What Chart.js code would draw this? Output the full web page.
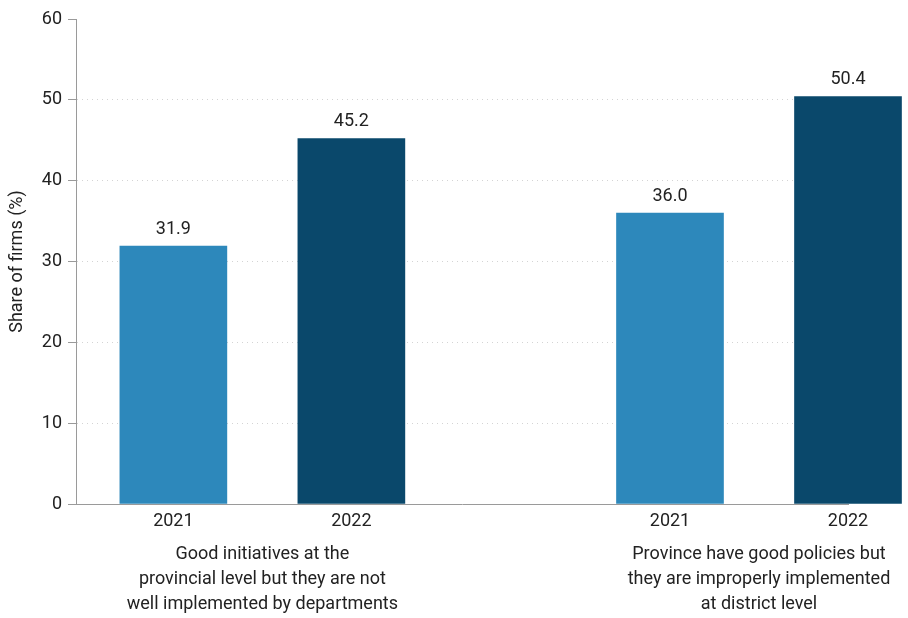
<!DOCTYPE html>
<html>
<head>
<meta charset="utf-8">
<title>Share of firms</title>
<script src="https://cdn.jsdelivr.net/npm/chart.js@4/dist/chart.umd.min.js"></script>
<style>
  html, body { margin: 0; padding: 0; background: #fff; }
</style>
</head>
<body>
<canvas id="myChart" width="908" height="618"></canvas>
<script>
const groupLabels = [
    ['Good initiatives at the', 'provincial level but they are not', 'well implemented by departments'],
    ['Province have good policies but', 'they are improperly implemented', 'at district level']
];
const years = ['2021', '2022'];
const share2021 = [31.9, 36.0];
const share2022 = [45.2, 50.4];
const yTicks = [0, 10, 20, 30, 40, 50, 60];

// layout of the x axis: bars of a group sit one unit apart, groups further
const GROUP_STEP = 2.79;
function slot(g, k) { return g * GROUP_STEP + k; }

const colors = ['#2d88bb', '#0a486b'];
const font = { family: 'Roboto', size: 18 };
const textColor = '#222';

const barSlots = [];
groupLabels.forEach((_, g) => years.forEach((_, k) => barSlots.push(slot(g, k))));
const groupSlots = groupLabels.map((_, g) => slot(g, 0) + 0.5);

const seriesValues = [share2021, share2022];
const datasets = years.map((yr, k) => ({
    label: yr,
    data: seriesValues[k].map((v, g) => ({ x: slot(g, k), y: v })),
    backgroundColor: colors[k],
    grouped: false,
    barThickness: 107,
    clip: false
}));

// prints the value above each bar
const valueLabels = {
    id: 'valueLabels',
    afterDatasetsDraw(chart) {
        const ctx = chart.ctx;
        ctx.save();
        ctx.font = '18px Roboto';
        ctx.fillStyle = textColor;
        ctx.textAlign = 'center';
        ctx.textBaseline = 'bottom';
        chart.data.datasets.forEach((ds, i) => {
            chart.getDatasetMeta(i).data.forEach((bar, j) => {
                ctx.fillText(ds.data[j].y.toFixed(1), bar.x, bar.y - 8);
            });
        });
        ctx.restore();
    }
};

const xMin = -0.547;
const xMax = slot(groupLabels.length - 1, years.length - 1);

const ctx = document.getElementById('myChart').getContext('2d');
const myChart = new Chart(ctx, {
    type: 'bar',
    data: { datasets: datasets },
    plugins: [valueLabels],
    options: {
        responsive: false,
        animation: false,
        layout: { padding: { left: 0, top: 19, right: 60, bottom: 0 } },
        plugins: {
            legend: { display: false },
            tooltip: { enabled: false }
        },
        scales: {
            x: {
                type: 'linear',
                min: xMin,
                max: xMax,
                offset: false,
                weight: 0,
                grid: { display: false, drawTicks: false },
                border: { display: true, color: '#9a9a9a', width: 1 },
                afterBuildTicks: scale => { scale.ticks = barSlots.map(v => ({ value: v })); },
                afterFit: scale => { scale.height = 38; },
                ticks: {
                    autoSkip: false,
                    maxRotation: 0,
                    padding: 7,
                    font: font,
                    color: textColor,
                    callback: (value, index) => years[index % years.length]
                }
            },
            x2: {
                type: 'linear',
                position: 'bottom',
                axis: 'x',
                min: xMin,
                max: xMax,
                offset: false,
                weight: 1,
                grid: { display: false, drawTicks: false },
                border: { display: false },
                afterBuildTicks: scale => { scale.ticks = groupSlots.map(v => ({ value: v })); },
                afterFit: scale => { scale.height = 76; },
                ticks: {
                    autoSkip: false,
                    maxRotation: 0,
                    padding: 0,
                    font: { family: 'Roboto', size: 18, lineHeight: 1.39 },
                    color: textColor,
                    callback: (value, index) => groupLabels[index]
                }
            },
            y: {
                min: yTicks[0],
                max: yTicks[yTicks.length - 1],
                afterFit: scale => { scale.width = 76; },
                afterBuildTicks: scale => { scale.ticks = yTicks.map(v => ({ value: v })); },
                grid: {
                    color: c => (c.tick && c.tick.value > 0 && c.tick.value < 60) ? '#d4d4d4' : 'rgba(0,0,0,0)',
                    tickColor: '#9a9a9a',
                    tickLength: 8,
                    lineWidth: 1
                },
                border: { display: true, color: '#9a9a9a', width: 1, dash: [1, 4] },
                title: {
                    display: true,
                    text: 'Share of firms (%)',
                    font: font,
                    color: textColor,
                    padding: { top: 7, bottom: 0 }
                },
                ticks: {
                    padding: 6,
                    font: font,
                    color: textColor
                }
            }
        }
    }
});
</script>
</body>
</html>
